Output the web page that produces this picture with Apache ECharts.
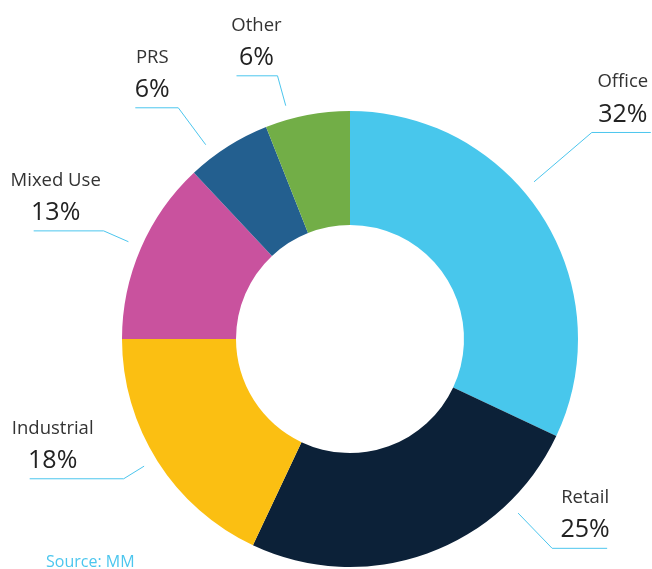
<!DOCTYPE html>
<html>
<head>
<meta charset="utf-8">
<script src="https://cdn.jsdelivr.net/npm/echarts@6/dist/echarts.min.js"></script>
<style>
html,body{margin:0;padding:0;background:#fff;}
#chart{width:652px;height:569px;}
</style>
</head>
<body>
<div id="chart"></div>
<script>
const categories = ['Office', 'Retail', 'Industrial', 'Mixed Use', 'PRS', 'Other'];
const values = [32, 25, 18, 13, 6, 6];
const colors = ['#48c7ec', '#0c2138', '#fbbf12', '#c9529e', '#235f8f', '#72ae47'];
const sourceText = 'Source: MM';

// label line styling: angle shift (deg), radial length, horizontal length, text offset from elbow
const labelStyle = [
  {da: -8.1, len: 76, len2: 59, t: 31},
  {da: -24.2, len: 49, len2: 55, t: 33},
  {da: 0.7, len: 24, len2: 94, t: 71},
  {da: 0.3, len: 27, len2: 70, t: 48},
  {da: -4.2, len: 46, len2: 43, t: 26},
  {da: -4.6, len: 31, len2: 41, t: 21}
];

const CX = 350, CY = 339, R_OUT = 228, R_IN = 114, GAP = 14;

const chart = echarts.init(document.getElementById('chart'), null, {renderer: 'canvas'});
chart.setOption({
  animation: false,
  backgroundColor: '#ffffff',
  graphic: [{
    type: 'text', left: 46, top: 554,
    style: {text: sourceText, fill: '#4cc6ee', font: '16px "Open Sans"'}
  }],
  series: [{
    type: 'pie',
    center: [CX, CY],
    radius: [R_IN, R_OUT],
    startAngle: 90,
    clockwise: true,
    avoidLabelOverlap: false,
    itemStyle: {borderWidth: 0},
    label: {
      show: true,
      position: 'outside',
      formatter: function (p) { return '{n|' + p.name + '}\n{p|' + p.value + '%}'; },
      rich: {
        n: {fontFamily: 'Open Sans', fontSize: 18.5, color: '#333333', lineHeight: 33, align: 'center'},
        p: {fontFamily: 'Open Sans', fontSize: 25, color: '#222222', lineHeight: 32, align: 'center'}
      }
    },
    labelLine: {show: true, length: 20, length2: 20, lineStyle: {color: '#4cc6ee', width: 1}},
    labelLayout: function (p) {
      const s = labelStyle[p.dataIndex];
      const pts = p.labelLinePoints;
      if (!pts) return {};
      const p0 = pts[0];
      let ang = Math.atan2(p0[0] - CX, -(p0[1] - CY)); // clockwise from top
      ang += s.da * Math.PI / 180;
      const sx = Math.sin(ang), sy = -Math.cos(ang);
      const r1 = R_OUT + GAP, r2 = r1 + s.len;
      const a = [CX + r1 * sx, CY + r1 * sy];
      const b = [CX + r2 * sx, CY + r2 * sy];
      const dir = sx >= 0 ? 1 : -1;
      const c = [b[0] + dir * s.len2, b[1]];
      return {
        x: b[0] + dir * s.t,
        y: b[1] - 2,
        align: 'center',
        verticalAlign: 'bottom',
        labelLinePoints: [a, b, c]
      };
    },
    data: categories.map(function (name, i) {
      return {name: name, value: values[i], itemStyle: {color: colors[i]}};
    })
  }]
});
</script>
</body>
</html>
